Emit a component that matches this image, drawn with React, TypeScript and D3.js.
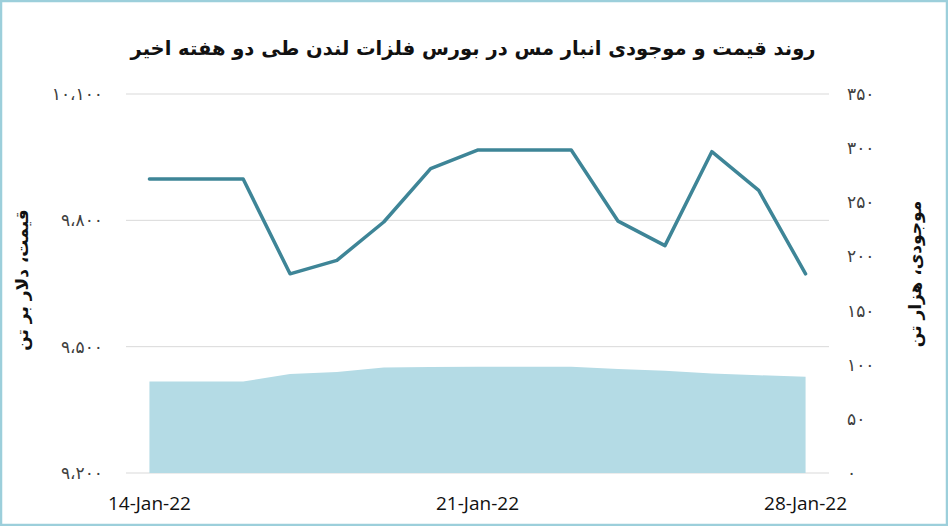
import React from 'react';
import * as d3 from 'd3';

// روند قیمت و موجودی مس - LME
const days = [
  '14-Jan-22', '15-Jan-22', '16-Jan-22', '17-Jan-22', '18-Jan-22',
  '19-Jan-22', '20-Jan-22', '21-Jan-22', '22-Jan-22', '23-Jan-22',
  '24-Jan-22', '25-Jan-22', '26-Jan-22', '27-Jan-22', '28-Jan-22',
];
const priceValues = [9898, 9898, 9898, 9673, 9705, 9796, 9923, 9967, 9967, 9967, 9798, 9740, 9963, 9871, 9673];
const stockValues = [84.5, 84.5, 84.5, 91.4, 93.2, 97.5, 97.9, 98.1, 98.1, 98.1, 96.0, 94.4, 92.0, 90.3, 88.9];

const xTickLabels = ['14-Jan-22', '21-Jan-22', '28-Jan-22'];
const priceTicks = [9200, 9500, 9800, 10100];
const stockTicks = [0, 50, 100, 150, 200, 250, 300, 350];

const title = 'روند قیمت و موجودی انبار مس در بورس فلزات لندن طی دو هفته اخیر';
const leftTitle = 'قیمت، دلار بر تن';
const rightTitle = 'موجودی، هزار تن';

const width = 948;
const height = 526;
const plot = { left: 126, right: 829, top: 94, bottom: 473 };

const faDigits = (s: string) => s.replace(/\d/g, (c) => '۰۱۲۳۴۵۶۷۸۹'[+c]);
const fmtPrice = (v: number) => faDigits(d3.format(',')(v)).replace(/,/g, '،');

const persianFont = '"DejaVu Sans", sans-serif';

export default function App() {
  const x = d3.scalePoint<string>().domain(days).range([plot.left, plot.right]).padding(0.5);
  const yL = d3.scaleLinear().domain([9200, 10100]).range([plot.bottom, plot.top]);
  const yR = d3.scaleLinear().domain([0, 350]).range([plot.bottom, plot.top]);

  const idx = d3.range(days.length);
  const area = d3.area<number>()
    .x((i) => x(days[i])!)
    .y0(yR(0))
    .y1((i) => yR(stockValues[i]));
  const line = d3.line<number>()
    .x((i) => x(days[i])!)
    .y((i) => yL(priceValues[i]));

  return (
    <div style={{ position: 'fixed', left: 0, top: 0 }}>
      <svg width={width} height={height} style={{ display: 'block', background: '#fff' }}>
        <rect x={1} y={1} width={width - 2} height={height - 2} fill="#fff" stroke="#9ccfdb" strokeWidth={2.5} />

        <text x={473} y={55} textAnchor="middle" direction="rtl" fontFamily={persianFont}
          fontWeight="bold" fontSize={19.5} fill="#111">{title}</text>

        {priceTicks.map((t) => (
          <line key={t} x1={plot.left} x2={plot.right} y1={yL(t)} y2={yL(t)} stroke="#d9d9d9" strokeWidth={1} />
        ))}

        <path d={area(idx)!} fill="#b4dbe5" />
        <path d={line(idx)!} fill="none" stroke="#3e8597" strokeWidth={3.5} strokeLinejoin="round" strokeLinecap="round" />

        {priceTicks.map((t) => (
          <text key={t} x={103} y={yL(t)} dy="0.35em" textAnchor="end" fontFamily={persianFont}
            fontSize={17} fill="#404040">{fmtPrice(t)}</text>
        ))}
        {stockTicks.map((t) => (
          <text key={t} x={847} y={yR(t)} dy="0.35em" textAnchor="start" fontFamily={persianFont}
            fontSize={17} fill="#404040">{faDigits(String(t))}</text>
        ))}

        {xTickLabels.map((d) => (
          <text key={d} x={x(d)} y={510} textAnchor="middle" fontFamily='"Open Sans", sans-serif'
            fontSize={19} fill="#111">{d}</text>
        ))}

        <text transform={`translate(22,280) rotate(-90)`} textAnchor="middle" direction="rtl" dy="0.35em"
          fontFamily={persianFont} fontWeight="bold" fontSize={17} fill="#111">{leftTitle}</text>
        <text transform={`translate(915,274) rotate(-90)`} textAnchor="middle" direction="rtl" dy="0.35em"
          fontFamily={persianFont} fontWeight="bold" fontSize={17} fill="#111">{rightTitle}</text>
      </svg>
    </div>
  );
}
